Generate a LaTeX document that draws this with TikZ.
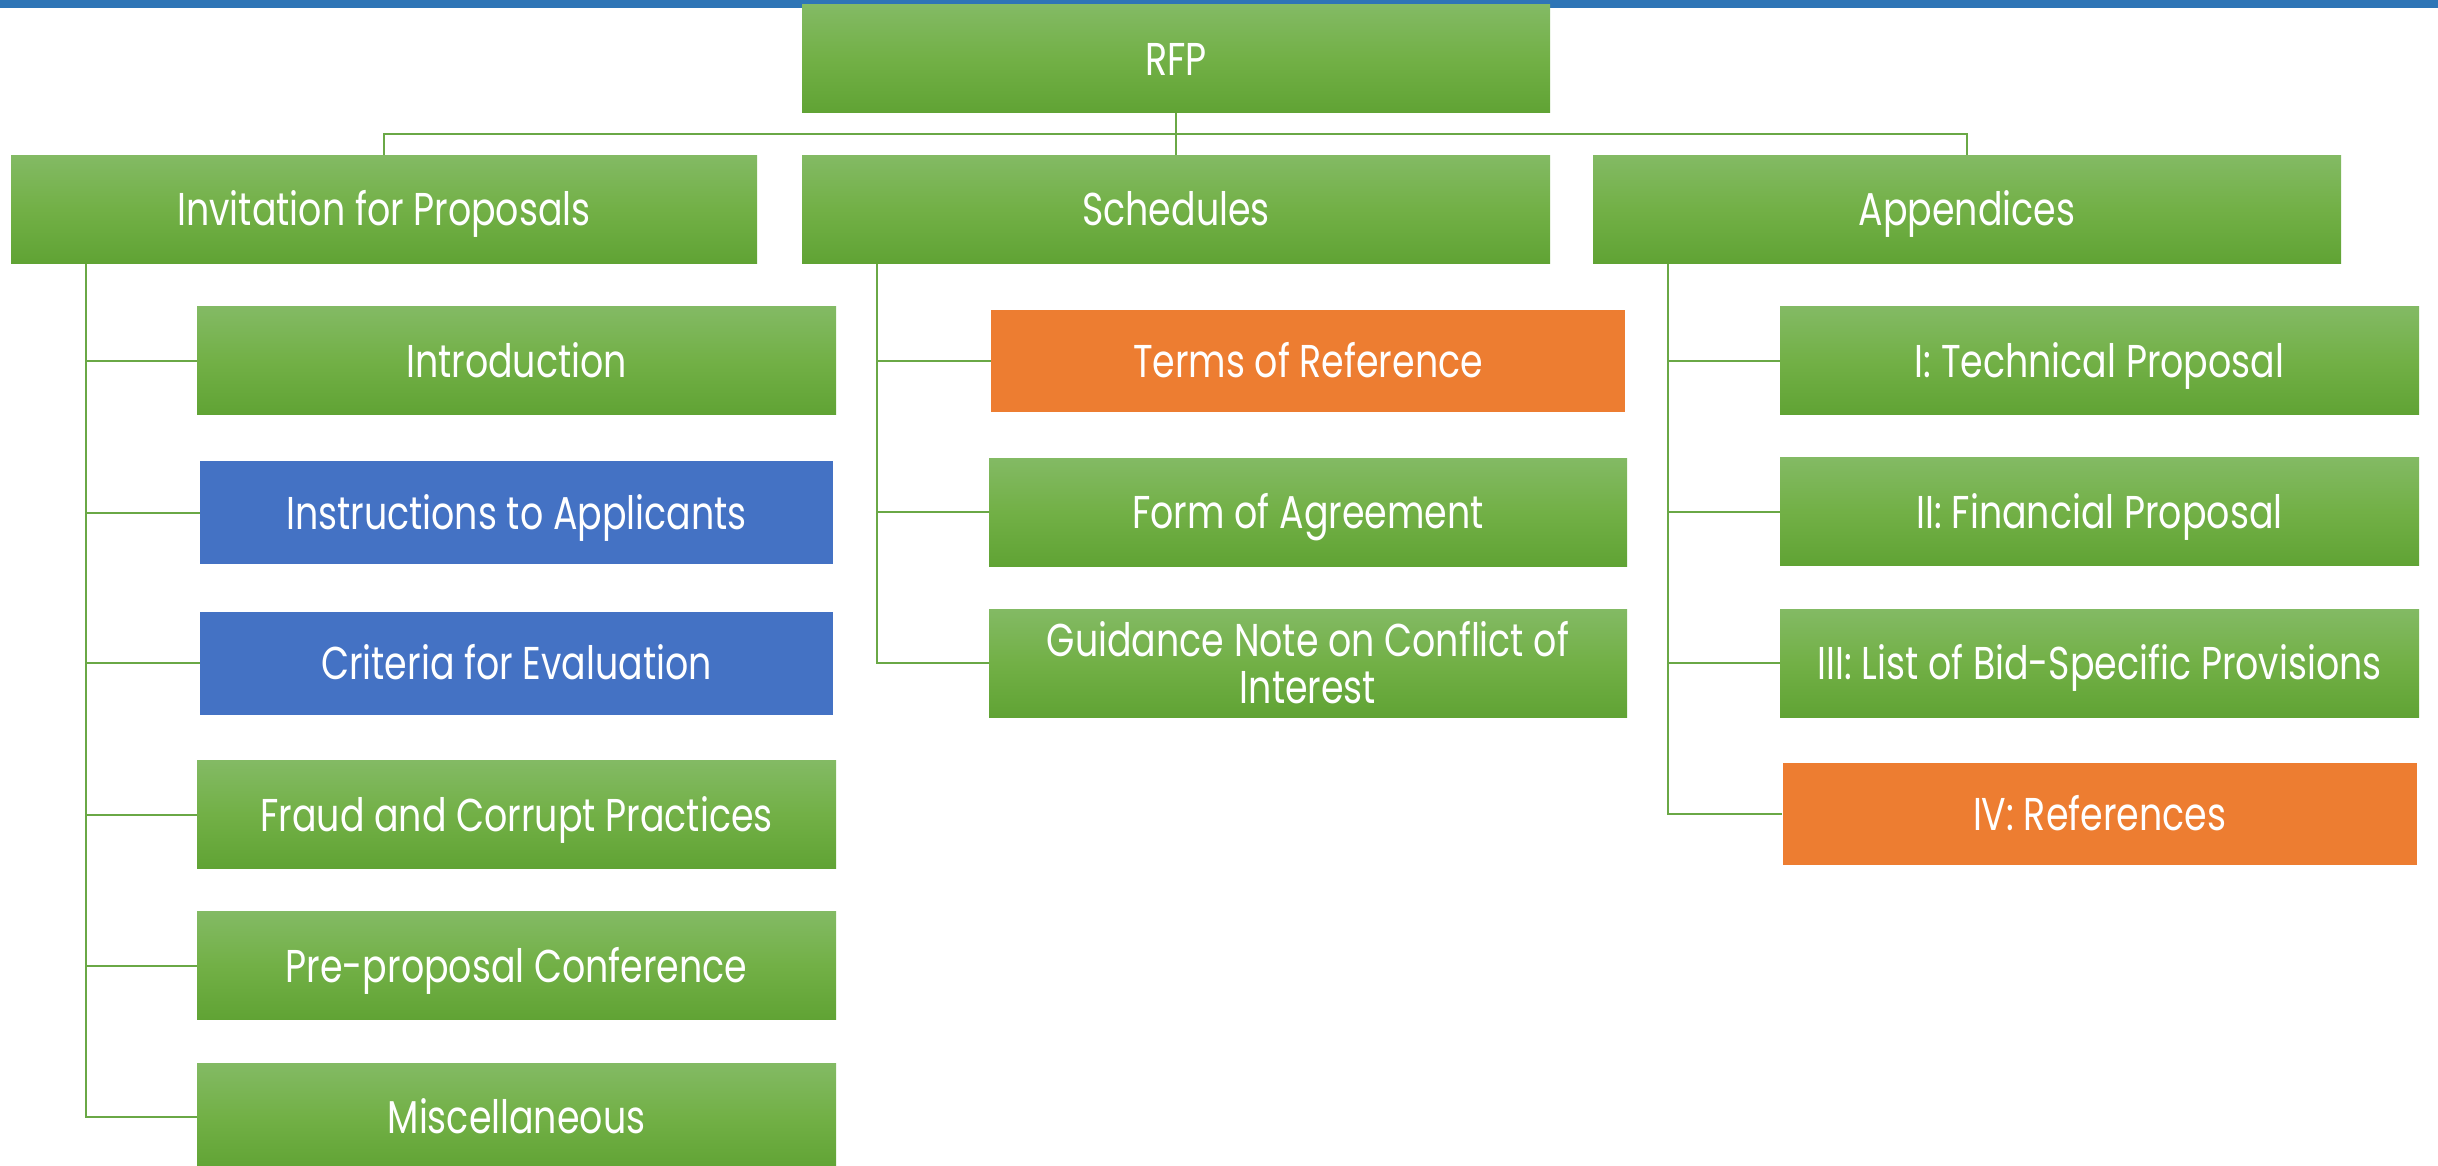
\documentclass[tikz,border=0pt]{standalone}
\usepackage{fontspec}
\setmainfont{Poppins}[FakeStretch=0.79]
\definecolor{gtop}{RGB}{131,186,100}
\definecolor{gmid}{RGB}{114,176,70}
\definecolor{gbot}{RGB}{96,163,52}
\definecolor{lnk}{RGB}{106,168,70}
\definecolor{obox}{RGB}{237,125,49}
\definecolor{bbox}{RGB}{68,114,196}
\definecolor{topbar}{RGB}{46,117,182}
\tikzset{
  base0/.style={rectangle, inner sep=0pt, text=white, align=center,
    font=\fontsize{23}{23.5}\selectfont},
  base/.style={base0, text height=21pt, text depth=4.5pt},
  gfill/.style={top color=gtop, bottom color=gbot, middle color=gmid,
    minimum width=#1*0.5pt, minimum height=54pt},
  gbox/.style={base, gfill=#1},
  gbox/.default=639,
  gboxml/.style={base0, gfill=#1},
  obox/.style={base, fill=obox, minimum width=317pt, minimum height=51pt},
  bluebox/.style={base, fill=bbox, minimum width=316.5pt, minimum height=51.5pt},
  link/.style={draw=lnk, line width=1pt}
}
\begin{document}
\begin{tikzpicture}[x=0.5pt,y=-0.5pt]
\useasboundingbox (0,0) rectangle (2438,1166);
\clip (0,0) rectangle (2438,1166);
\fill[topbar] (0,0) rectangle (2438,8);
% level 0 / 1
\node[gbox=748] (rfp) at (1176,59) {RFP};
\node[gbox=746] (inv) at (384,209.5) {Invitation for Proposals};
\node[gbox=748] (sch) at (1176,209.5) {Schedules};
\node[gbox=748] (app) at (1967,209.5) {Appendices};
% left column
\node[gbox] (l1) at (516.5,361) {Introduction};
\node[bluebox] (l2) at (516.5,512.5) {Instructions to Applicants};
\node[bluebox] (l3) at (516.5,663) {Criteria for Evaluation};
\node[gbox] (l4) at (516.5,814.5) {Fraud and Corrupt Practices};
\node[gbox] (l5) at (516.5,965.5) {Pre-proposal Conference};
\node[gbox] (l6) at (516.5,1117) {Miscellaneous};
% middle column
\node[obox] (m1) at (1308,361) {Terms of Reference};
\node[gbox=638] (m2) at (1308,512) {Form of Agreement};
\node[gboxml=638] (m3) at (1308,663) {Guidance Note on Conflict of\\Interest};
% right column
\node[gbox] (r1) at (2099.5,361) {I: Technical Proposal};
\node[gbox] (r2) at (2099.5,511.5) {II: Financial Proposal};
\node[gbox] (r3) at (2099.5,663) {III: List of Bid-Specific Provisions};
\node[obox] (r4) at (2099.5,814) {IV: References};
% top connectors
\coordinate (bus) at (1176,134);
\draw[link] (rfp.south) -- (bus);
\draw[link] (bus) -| (inv.north);
\draw[link] (bus) -- (sch.north);
\draw[link] (bus) -| (app.north);
% child connectors
\foreach \c in {l1,l2,l3,l4,l5,l6}
  \draw[link] ([xshift=37.5pt]inv.south west) |- (\c.west);
\foreach \c in {m1,m2,m3}
  \draw[link] ([xshift=37.5pt]sch.south west) |- (\c.west);
\foreach \c in {r1,r2,r3,r4}
  \draw[link] ([xshift=37.5pt]app.south west) |- (\c.west);
\end{tikzpicture}
\end{document}
